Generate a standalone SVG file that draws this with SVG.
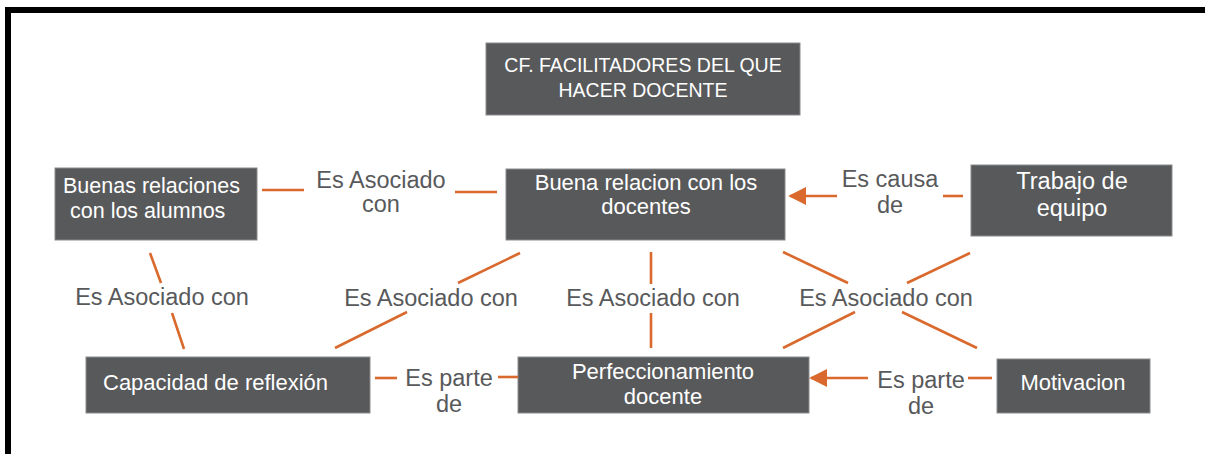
<svg xmlns="http://www.w3.org/2000/svg" width="1205" height="454" viewBox="0 0 1205 454">
<defs>
<style>
.box{fill:#58595b;stroke:#8a8b8d;stroke-width:1}
.nt{fill:#ffffff;font-family:"Liberation Sans",Arial,sans-serif;font-size:22px}
.lb{fill:#58595b;font-family:"Liberation Sans",Arial,sans-serif;font-size:23.5px}
.ln{stroke:#d9692d;stroke-width:2.6;fill:none}
</style>
<marker id="ah" viewBox="0 0 10 10" refX="9" refY="5" markerWidth="7" markerHeight="7" markerUnits="strokeWidth" orient="auto">
<path d="M0,0 L10,5 L0,10 Z" fill="#d9692d"/>
</marker>
</defs>
<rect width="1205" height="454" fill="#ffffff"/>
<rect x="8" y="10" width="1212" height="470" fill="none" stroke="#000000" stroke-width="6"/>

<g id="title">
<rect class="box" x="486" y="43" width="314" height="72"/>
<text class="nt" x="643" y="72" text-anchor="middle" style="font-size:19.5px">CF. FACILITADORES DEL QUE</text>
<text class="nt" x="643" y="97" text-anchor="middle" style="font-size:19.5px">HACER DOCENTE</text>
</g>

<g id="buenas-relaciones">
<rect class="box" x="55" y="168" width="202" height="72"/>
<text class="nt" x="63" y="193" style="font-size:21.5px">Buenas relaciones</text>
<text class="nt" x="70" y="218" style="font-size:21.5px">con los alumnos</text>
</g>

<g id="buena-relacion">
<rect class="box" x="506" y="169" width="279" height="71"/>
<text class="nt" x="646" y="190" text-anchor="middle">Buena relacion con los</text>
<text class="nt" x="646" y="214" text-anchor="middle">docentes</text>
</g>

<g id="trabajo">
<rect class="box" x="971" y="165" width="201" height="71"/>
<text class="nt" x="1072" y="189" text-anchor="middle" style="font-size:23.5px">Trabajo de</text>
<text class="nt" x="1072" y="216" text-anchor="middle" style="font-size:23.5px">equipo</text>
</g>

<g id="capacidad">
<rect class="box" x="86" y="357" width="284" height="56"/>
<text class="nt" x="103" y="390">Capacidad de reflexión</text>
</g>

<g id="perfeccionamiento">
<rect class="box" x="518" y="357" width="291" height="56"/>
<text class="nt" x="663" y="379" text-anchor="middle">Perfeccionamiento</text>
<text class="nt" x="663" y="404" text-anchor="middle">docente</text>
</g>

<g id="motivacion">
<rect class="box" x="997" y="359" width="153" height="54"/>
<text class="nt" x="1073" y="390" text-anchor="middle">Motivacion</text>
</g>

<g id="connectors">
<!-- Buenas relaciones - Buena relacion -->
<line class="ln" x1="262" y1="190" x2="304" y2="190"/>
<line class="ln" x1="455" y1="192" x2="497" y2="192"/>
<text class="lb" x="381" y="188" text-anchor="middle">Es Asociado</text>
<text class="lb" x="381" y="212" text-anchor="middle">con</text>

<!-- Trabajo -> Buena relacion -->
<line class="ln" x1="943" y1="196" x2="963" y2="196"/>
<line class="ln" x1="837" y1="196" x2="790" y2="196" marker-end="url(#ah)"/>
<text class="lb" x="890" y="187" text-anchor="middle">Es causa</text>
<text class="lb" x="890" y="213" text-anchor="middle">de</text>

<!-- Buenas relaciones - Capacidad -->
<line class="ln" x1="150" y1="253" x2="161" y2="283"/>
<line class="ln" x1="172" y1="313" x2="184" y2="349"/>
<text class="lb" x="162" y="305" text-anchor="middle">Es Asociado con</text>

<!-- Buena relacion - Capacidad -->
<line class="ln" x1="520" y1="253" x2="458" y2="283"/>
<line class="ln" x1="407" y1="312" x2="335" y2="348"/>
<text class="lb" x="431" y="306" text-anchor="middle">Es Asociado con</text>

<!-- Buena relacion - Perfeccionamiento -->
<line class="ln" x1="651" y1="252" x2="651" y2="284"/>
<line class="ln" x1="651" y1="313" x2="651" y2="348"/>
<text class="lb" x="653" y="306" text-anchor="middle">Es Asociado con</text>

<!-- Cross: Buena relacion - Motivacion ; Trabajo - Perfeccionamiento -->
<line class="ln" x1="783" y1="252" x2="848" y2="283"/>
<line class="ln" x1="902" y1="312" x2="977" y2="348"/>
<line class="ln" x1="970" y1="253" x2="907" y2="283"/>
<line class="ln" x1="855" y1="312" x2="783" y2="348"/>
<text class="lb" x="886" y="306" text-anchor="middle">Es Asociado con</text>

<!-- Capacidad - Perfeccionamiento -->
<line class="ln" x1="375" y1="378" x2="397" y2="378"/>
<line class="ln" x1="498" y1="377" x2="518" y2="377"/>
<text class="lb" x="449" y="386" text-anchor="middle">Es parte</text>
<text class="lb" x="449" y="412" text-anchor="middle">de</text>

<!-- Motivacion -> Perfeccionamiento -->
<line class="ln" x1="968" y1="378" x2="992" y2="378"/>
<line class="ln" x1="868" y1="378" x2="811" y2="378" marker-end="url(#ah)"/>
<text class="lb" x="921" y="388" text-anchor="middle">Es parte</text>
<text class="lb" x="921" y="414" text-anchor="middle">de</text>
</g>
</svg>
